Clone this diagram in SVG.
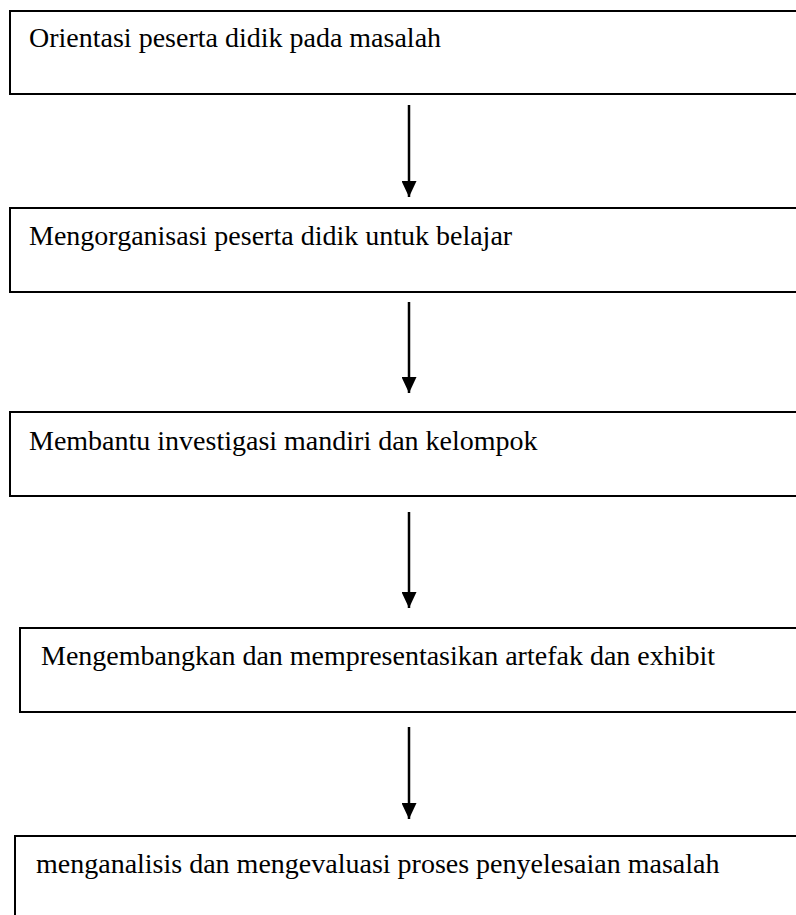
<svg xmlns="http://www.w3.org/2000/svg" width="796" height="915" viewBox="0 0 796 915">
<style>
.box{fill:#fff;stroke:#000;stroke-width:2}
.lbl{font-family:"Liberation Serif","Times New Roman",serif;font-size:28px;fill:#000}
.conn{stroke:#000;stroke-width:2.5;fill:none}
</style>
<defs>
<marker id="ah" markerWidth="16" markerHeight="15" refX="16" refY="7.5" orient="auto" markerUnits="userSpaceOnUse" viewBox="0 0 16 15">
<path d="M0,0 L16,7.5 L0,15 Z" fill="#000"/>
</marker>
</defs>
<rect width="796" height="915" fill="#fff"/>
<g id="node1"><rect class="box" x="10" y="11" width="800" height="83"/><text class="lbl" x="29" y="47">Orientasi peserta didik pada masalah</text></g>
<g id="node2"><rect class="box" x="10" y="208" width="800" height="84"/><text class="lbl" x="29" y="245">Mengorganisasi peserta didik untuk belajar</text></g>
<g id="node3"><rect class="box" x="10" y="412" width="800" height="84"/><text class="lbl" x="29" y="450">Membantu investigasi mandiri dan kelompok</text></g>
<g id="node4"><rect class="box" x="20" y="628" width="800" height="84"/><text class="lbl" x="41" y="665">Mengembangkan dan mempresentasikan artefak dan exhibit</text></g>
<g id="node5"><rect class="box" x="15" y="836" width="800" height="100"/><text class="lbl" x="36" y="873">menganalisis dan mengevaluasi proses penyelesaian masalah</text></g>
<g id="connectors">
<line class="conn" x1="409" y1="105" x2="409" y2="197" marker-end="url(#ah)"/>
<line class="conn" x1="409" y1="302" x2="409" y2="393" marker-end="url(#ah)"/>
<line class="conn" x1="409" y1="512" x2="409" y2="608" marker-end="url(#ah)"/>
<line class="conn" x1="409" y1="727" x2="409" y2="819" marker-end="url(#ah)"/>
</g>
</svg>
